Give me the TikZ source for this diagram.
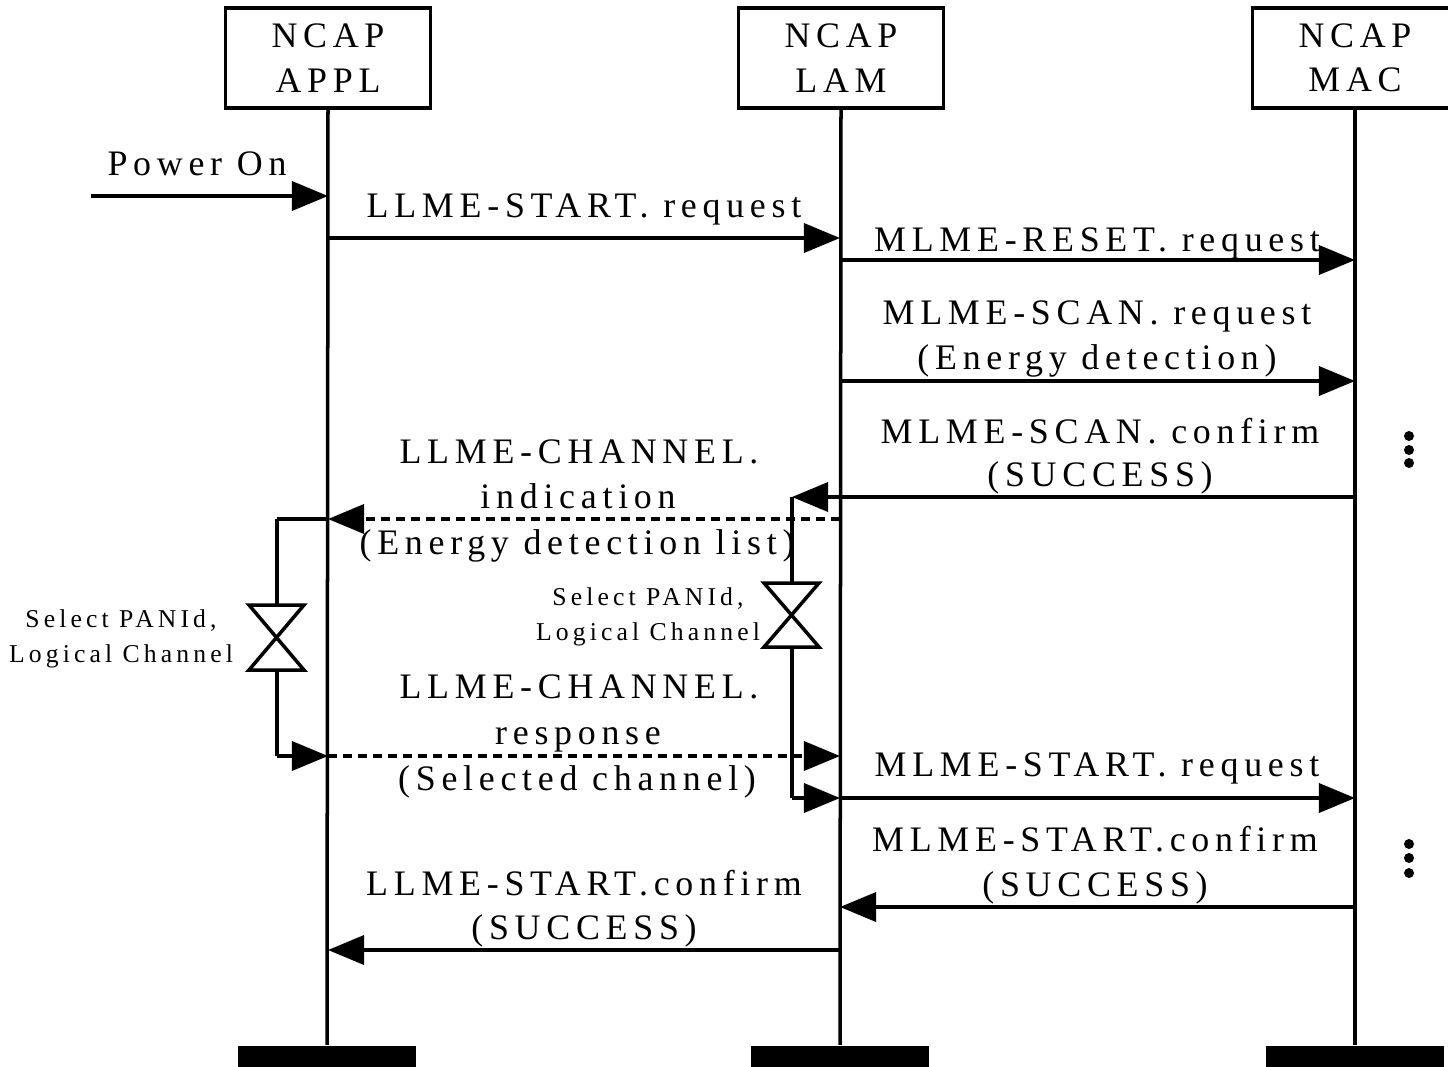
\documentclass[tikz,border=0pt]{standalone}
\usepackage{fontspec}
\setmainfont[LetterSpace=16]{Liberation Serif}
\usetikzlibrary{arrows.meta}
\tikzset{
  lw/.style={line width=0.035cm},
  headbox/.style={draw,lw,minimum width=2.05cm,minimum height=1.0cm,align=center,inner sep=0pt,font=\fontsize{10.2}{12.6}\selectfont},
  lbl/.style={anchor=base,inner sep=0pt,font=\fontsize{10.2}{12}\selectfont},
  small/.style={anchor=base,inner sep=0pt,font=\fontsize{7.3}{8}\selectfont},
  msg/.style={lw,-{Triangle[length=0.36cm,width=0.29cm]}},
  dmsg/.style={msg,dash pattern=on 0.09cm off 0.06cm},
  life/.style={lw},
  bar/.style={fill=black},
  hg/.style={lw,fill=white},
}
\begin{document}
\begin{tikzpicture}[x=0.01cm,y=-0.01cm]
\useasboundingbox (0,0) rectangle (1448,1066);
\clip (0,0) rectangle (1448,1066);
% heads
\node[headbox] (appl) at (328,58) {NCAP\\APPL};
\node[headbox] (lam) at (841,58) {NCAP\\LAM};
\node[headbox] (mac) at (1355,58) {NCAP\\MAC};
% bars
\node[bar,minimum width=1.78cm,minimum height=0.21cm,inner sep=0pt] (applend) at (327,1056) {};
\node[bar,minimum width=1.78cm,minimum height=0.21cm,inner sep=0pt] (lamend) at (840,1056) {};
\node[bar,minimum width=1.78cm,minimum height=0.21cm,inner sep=0pt] (macend) at (1355,1056) {};
% lifelines
\draw[life] (appl.south) -- (applend.north);
\draw[life] (lam.south) -- (lamend.north);
\draw[life] (mac.south) -- (macend.north);
% coordinates on lifelines
\coordinate (pwr) at (91,196);
\coordinate (a1) at (328,196);
\coordinate (a2) at (328,238);
\coordinate (l2) at (840,238);
\coordinate (l3) at (840,260);
\coordinate (m3) at (1355,260);
\coordinate (l4) at (840,381);
\coordinate (m4) at (1355,381);
\coordinate (m5) at (1355,497);
\coordinate (l5) at (840,497);
\coordinate (l6) at (840,519);
\coordinate (a6) at (328,519);
\coordinate (a7) at (328,756);
\coordinate (l7) at (840,756);
\coordinate (l8) at (840,798);
\coordinate (m8) at (1355,798);
\coordinate (m9) at (1355,907);
\coordinate (l9) at (840,907);
\coordinate (l10) at (840,950);
\coordinate (a10) at (328,950);
% loop corners
\coordinate (lc1) at (277,519);
\coordinate (lc2) at (277,756);
\coordinate (rc1) at (792,497);
\coordinate (rc2) at (792,798);
% messages
\draw[msg] (pwr) -- (a1);
\node[lbl] (tpwr) at (197,175) {Power On};
\draw[msg] (a2) -- (l2);
\node[lbl] (t2) at (584,217) {LLME-START. request};
\draw[msg] (l3) -- (m3);
\node[lbl] (t3) at (1097,251) {MLME-RESET. request};
\draw[msg] (l4) -- (m4);
\node[lbl] (t4a) at (1097,324) {MLME-SCAN. request};
\node[lbl] (t4b) at (1097,369) {(Energy detection)};
% loops
\draw[lw] (lc1) -- (277,605);
\draw[lw] (277,670) -- (lc2);
\draw[lw] (rc1) -- (792,583);
\draw[lw] (792,647) -- (rc2);
\draw[msg] (m5) -- (l5) -- (rc1);
\node[lbl] (t5a) at (1100,443) {MLME-SCAN. confirm};
\node[lbl] (t5b) at (1100,486) {(SUCCESS)};
\draw[dmsg] (l6) -- (a6);
\draw[lw] (a6) -- (lc1);
\node[lbl] (t6a) at (579,463) {LLME-CHANNEL.};
\node[lbl] (t6b) at (578,508) {indication};
\node[lbl] (t6c) at (577,554) {(Energy detection list)};
% hourglasses
\draw[hg] (249,605) -- (304,605) -- (249,670) -- (304,670) -- cycle;
\draw[hg] (764,583) -- (819,583) -- (764,647) -- (819,647) -- cycle;
\node[small] (s1a) at (121,627) {Select PANId,};
\node[small] (s1b) at (121,662) {Logical Channel};
\node[small] (s2a) at (648,605) {Select PANId,};
\node[small] (s2b) at (648,640) {Logical Channel};
\draw[msg] (lc2) -- (a7);
\draw[dmsg] (a7) -- (l7);
\node[lbl] (t7a) at (579,698) {LLME-CHANNEL.};
\node[lbl] (t7b) at (578,744) {response};
\node[lbl] (t7c) at (577,790) {(Selected channel)};
\draw[msg] (rc2) -- (l8);
\draw[msg] (l8) -- (m8);
\node[lbl] (t8) at (1097,776) {MLME-START. request};
\draw[msg] (m9) -- (l9);
\node[lbl] (t9a) at (1095,851) {MLME-START.confirm};
\node[lbl] (t9b) at (1095,896) {(SUCCESS)};
\draw[msg] (l10) -- (a10);
\node[lbl] (t10a) at (584,895) {LLME-START.confirm};
\node[lbl] (t10b) at (584,939) {(SUCCESS)};
% dots
\foreach \yy in {436,450,463} \fill (1409,\yy) circle (5);
\foreach \yy in {844,858,873} \fill (1409,\yy) circle (5);
\end{tikzpicture}
\end{document}
